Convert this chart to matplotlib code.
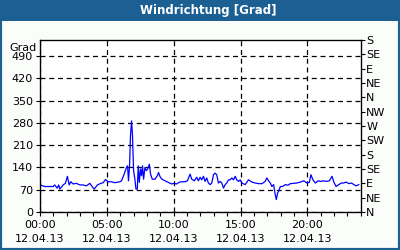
import matplotlib
matplotlib.use("Agg")
import matplotlib.pyplot as plt
from matplotlib.patches import Rectangle
from matplotlib.ticker import MultipleLocator

# ---- data ----
hours = [0, 0.35, 0.98, 1.10, 1.28, 1.40, 1.48, 1.73, 1.90, 2.05, 2.18, 2.30, 2.48, 2.72, 2.98,
         3.23, 3.47, 3.73, 3.90, 4.05, 4.30, 4.55, 4.73, 4.90, 5.10, 5.35, 5.60, 5.98,
         6.10, 6.30, 6.47, 6.55, 6.62, 6.70, 6.77, 6.85, 6.92, 7.00,
         7.10, 7.18, 7.28, 7.35, 7.43, 7.52, 7.60, 7.67, 7.75, 7.85,
         7.95, 8.05, 8.18, 8.27, 8.40, 8.60, 8.78, 8.87, 9.00, 9.13,
         9.35, 9.60, 9.85, 10.03, 10.22, 10.40, 10.60, 10.85, 11.03, 11.23,
         11.35, 11.55, 11.72, 11.85, 11.98,
         12.10, 12.23, 12.35, 12.47, 12.60, 12.73, 12.85, 12.98, 13.10, 13.22,
         13.35, 13.48, 13.60, 13.73, 13.85, 13.97, 14.10, 14.23, 14.35, 14.48,
         14.60, 14.72, 14.85, 14.98, 15.10, 15.35, 15.60, 15.85, 16.10, 16.35,
         16.60, 16.85, 16.97, 17.10, 17.23, 17.35, 17.48, 17.60, 17.68, 17.78,
         17.85, 17.98,
         18.15, 18.35, 18.55, 18.73, 18.98, 19.22, 19.48, 19.73, 19.97, 20.15,
         20.27, 20.42, 20.60, 20.80, 20.98, 21.23, 21.43, 21.65, 21.85, 21.98,
         22.15, 22.35, 22.55, 22.73, 22.90, 23.10, 23.30, 23.48, 23.65, 23.85]
direction = [85, 80, 80, 85, 75, 85, 72, 85, 90, 112, 85, 95, 88, 90, 85,
             85, 82, 90, 80, 72, 85, 90, 92, 102, 95, 95, 92, 95,
             98, 119, 140, 145, 98, 145, 240, 286, 240, 130,
             103, 72, 72, 145, 93, 135, 114, 145, 103, 140,
             130, 135, 150, 119, 103, 103, 114, 124, 109, 103,
             98, 93, 88, 90, 88, 93, 95, 95, 98, 119,
             103, 98, 109, 98, 109,
             101, 112, 96, 107, 91, 86, 91, 117, 122, 117,
             91, 96, 91, 75, 86, 91, 101, 101, 107, 101,
             112, 101, 96, 101, 91, 86, 101, 94, 91, 89,
             89, 96, 107, 98, 91, 80, 86, 54, 39, 60,
             65, 80,
             80, 86, 84, 89, 90, 91, 94, 98, 91, 93,
             117, 101, 91, 98, 96, 98, 96, 98, 112, 94,
             80, 86, 91, 91, 94, 89, 91, 86, 82, 86]

left_ticks = [0, 70, 140, 210, 280, 350, 420, 490]
right_ticks = [0, 45, 90, 135, 180, 225, 270, 315, 360, 405, 450, 495, 540]
right_labels = ["N", "NE", "E", "SE", "S", "SW", "W", "NW", "N", "NE", "E", "SE", "S"]
x_major = [0, 5, 10, 15, 20]
x_labels = ["00:00\n12.04.13", "05:00\n12.04.13", "10:00\n12.04.13",
            "15:00\n12.04.13", "20:00\n12.04.13"]
title = "Windrichtung [Grad]"
unit = "Grad"

BLUE = "#1c5f93"

fig = plt.figure(figsize=(4, 2.5), dpi=100)
fig.patch.set_facecolor("#fbfdfb")
# outer frame and title bar
fig.add_artist(Rectangle((0, 0), 1, 1, transform=fig.transFigure, fill=False,
                         edgecolor=BLUE, linewidth=3, zorder=0))
fig.add_artist(Rectangle((0, 1 - 21 / 250), 1, 21 / 250, transform=fig.transFigure,
                         facecolor=BLUE, edgecolor="none", zorder=1))
fig.text(0.52, 1 - 10.5 / 250, title, color="white", fontsize=8.5, fontweight="bold",
         ha="center", va="center")

ax = fig.add_axes([0.10, 1 - 212 / 250, 0.802, (212 - 40) / 250])
ax.set_facecolor("white")
ax.plot(hours, direction, color="#0000ff", linewidth=0.9)
ax.set_xlim(0, 24)
ax.set_ylim(0, 540)
ax.set_yticks(left_ticks)
ax.set_yticklabels([str(v) for v in left_ticks], fontsize=8)
ax.set_xticks(x_major)
ax.set_xticklabels(x_labels, fontsize=8, linespacing=1.45)
ax.xaxis.set_minor_locator(MultipleLocator(1))
ax.tick_params(axis="x", which="both", direction="out", length=3, width=0.8, pad=3)
ax.tick_params(axis="y", direction="out", length=3, width=0.8, pad=2)
ax.grid(True, color="black", linestyle=(0, (4, 3)), linewidth=0.9)
for s in ax.spines.values():
    s.set_linewidth(0.9)

ax2 = ax.twinx()
ax2.set_ylim(0, 540)
ax2.set_yticks(right_ticks)
ax2.set_yticklabels(right_labels, fontsize=8)
ax2.tick_params(axis="y", direction="out", length=3, width=0.8, pad=1)

ax.text(-0.01, 1 - 0.015, unit, transform=ax.transAxes, ha="right", va="top", fontsize=8)

fig.savefig("out.png", dpi=100, facecolor=fig.get_facecolor())
